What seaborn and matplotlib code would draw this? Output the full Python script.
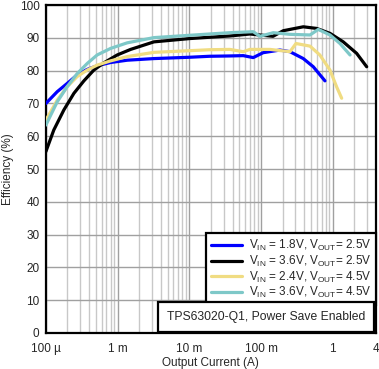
import matplotlib
matplotlib.use('Agg')
import matplotlib.pyplot as plt
import matplotlib.ticker as mticker
import pandas as pd
import seaborn as sns

# current in A, efficiency in %
x_blue = [1e-4, 1.44e-4, 1.98e-4, 2.73e-4, 3.77e-4, 5.19e-4, 7.99e-4, 1.36e-3, 3.21e-3, 1e-2, 1.9e-2,
          3.68e-2, 5.65e-2, 7.78e-2, 0.107, 0.183, 0.253, 0.388, 0.535, 0.778]
y_blue = [70.0, 73.6, 76.1, 78.7, 80.4, 81.5, 82.5, 83.2, 83.7, 84.1, 84.4,
          84.5, 84.6, 84.0, 85.5, 86.3, 85.8, 83.7, 81.2, 76.9]

x_black = [1e-4, 1.29e-4, 1.78e-4, 2.46e-4, 3.39e-4, 4.67e-4, 6.44e-4, 9.87e-4, 1.52e-3, 3.21e-3, 1e-2,
           1.9e-2, 3.68e-2, 7.0e-2, 0.147, 0.204, 0.388, 0.596, 0.914, 1.40, 2.15, 2.97]
y_black = [55.3, 61.9, 68.0, 73.1, 76.9, 80.2, 82.4, 84.8, 86.5, 88.8, 89.8,
           90.2, 90.6, 91.2, 90.5, 92.2, 93.4, 92.9, 91.4, 88.8, 85.3, 81.2]

x_yellow = [1e-4, 1.44e-4, 1.98e-4, 2.73e-4, 3.77e-4, 5.19e-4, 7.99e-4, 1.36e-3, 3.21e-3, 1e-2, 1.9e-2,
            3.68e-2, 5.65e-2, 7.0e-2, 0.133, 0.253, 0.307, 0.481, 0.66, 0.914, 1.13, 1.33]
y_yellow = [64.9, 71.0, 75.1, 78.2, 80.2, 81.7, 83.0, 84.3, 85.6, 86.1, 86.4,
            86.5, 85.8, 86.5, 86.5, 85.8, 88.3, 87.5, 84.8, 80.2, 75.1, 71.6]

x_cyan = [1e-4, 1.44e-4, 1.98e-4, 2.73e-4, 3.77e-4, 5.19e-4, 7.99e-4, 1.36e-3, 3.21e-3, 1e-2, 1.9e-2,
          3.68e-2, 7.78e-2, 9.66e-2, 0.148, 0.253, 0.481, 0.628, 0.914, 1.26, 1.74]
y_cyan = [63.4, 70.5, 75.1, 79.1, 82.2, 84.8, 86.8, 88.5, 90.1, 90.8, 91.2,
          91.6, 91.9, 90.5, 91.6, 91.1, 90.9, 92.6, 90.9, 88.3, 84.8]

labels = [r'V$_{\mathrm{IN}}$ = 1.8V, V$_{\mathrm{OUT}}$= 2.5V',
          r'V$_{\mathrm{IN}}$ = 3.6V, V$_{\mathrm{OUT}}$= 2.5V',
          r'V$_{\mathrm{IN}}$ = 2.4V, V$_{\mathrm{OUT}}$= 4.5V',
          r'V$_{\mathrm{IN}}$ = 3.6V, V$_{\mathrm{OUT}}$= 4.5V']
colors = ['#0000ff', '#000000', '#f0dc82', '#7ec8c8']

xticks = [1e-4, 1e-3, 1e-2, 1e-1, 1, 4]
xticklabels = ['100 µ', '1 m', '10 m', '100 m', '1', '4']

frames = []
for xs, ys, lab in zip([x_blue, x_black, x_yellow, x_cyan], [y_blue, y_black, y_yellow, y_cyan], labels):
    frames.append(pd.DataFrame({'I': xs, 'eff': ys, 'case': lab}))
df = pd.concat(frames, ignore_index=True)

sns.set_style('white')
plt.rcParams['font.family'] = ['Liberation Sans', 'DejaVu Sans']
plt.rcParams['mathtext.fontset'] = 'custom'
plt.rcParams['mathtext.rm'] = 'Liberation Sans'

fig = plt.figure(figsize=(3.79, 3.69), dpi=100)
ax = fig.add_axes([0.121, 0.098, 0.871, 0.888])

sns.lineplot(data=df, x='I', y='eff', hue='case', palette=colors, sort=False,
             linewidth=2.3, ax=ax, zorder=3)

ax.set_xscale('log')
ax.set_xlim(1e-4, 4)
ax.set_ylim(0, 100)
ax.set_yticks(range(0, 101, 10))
ax.set_xticks(xticks)
ax.set_xticklabels(xticklabels)
ax.xaxis.set_minor_locator(mticker.LogLocator(base=10, subs=range(2, 10), numticks=20))
ax.xaxis.set_minor_formatter(mticker.NullFormatter())
ax.grid(True, which='major', color='#a0a0a0', linewidth=1)
ax.grid(True, which='minor', axis='x', color='#c8c8c8', linewidth=1)
ax.tick_params(which='both', length=0, labelsize=8.5)
ax.tick_params(axis='x', pad=7)
ax.tick_params(axis='y', pad=4.5)
for s in ax.spines.values():
    s.set_color('black')
    s.set_linewidth(1.6)

ax.set_xlabel('Output Current (A)', fontsize=8.5, labelpad=2)
ax.set_ylabel('Efficiency (%)', fontsize=8.5, labelpad=4)

leg = ax.legend(loc='lower right', bbox_to_anchor=(1.0, 0.085), fontsize=8.5,
                frameon=True, fancybox=False, framealpha=1, edgecolor='black',
                handlelength=2.6, handletextpad=0.6, labelspacing=0.05,
                borderpad=0.4, borderaxespad=0.0)
leg.get_frame().set_linewidth(1.6)
leg.set_zorder(5)

ax.text(0.968, 0.029, 'TPS63020-Q1, Power Save Enabled', transform=ax.transAxes,
        ha='right', va='bottom', fontsize=8.7, zorder=6,
        bbox=dict(boxstyle='square,pad=0.75', facecolor='white', edgecolor='black', linewidth=1.6))

fig.savefig('out.png', dpi=100)
